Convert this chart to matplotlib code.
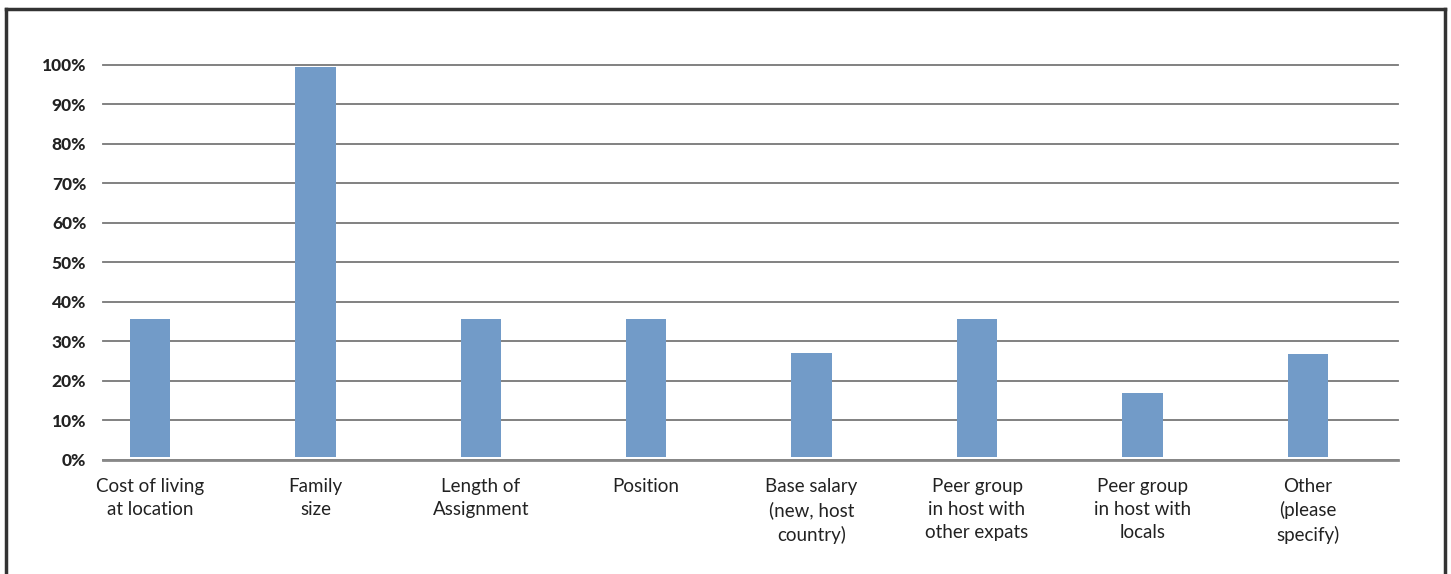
import matplotlib
matplotlib.use("Agg")
import matplotlib.pyplot as plt
from matplotlib.lines import Line2D

categories = ["Cost of living\nat location", "Family\nsize", "Length of\nAssignment",
              "Position", "Base salary\n(new, host\ncountry)", "Peer group\nin host with\nother expats",
              "Peer group\nin host with\nlocals", "Other\n(please\nspecify)"]
values = [35.6, 99.3, 35.6, 35.6, 27.0, 35.6, 17.0, 26.8]
yticks = [0, 10, 20, 30, 40, 50, 60, 70, 80, 90, 100]
ytick_labels = [f"{t}%" for t in yticks]

fig = plt.figure(figsize=(14.51, 5.74), dpi=100)
ax = fig.add_axes([103/1451, 1-460/574, (1398-103)/1451, (460-64.5)/574])

base = 0.8
x = list(range(len(categories)))
ax.bar(x, [v - base for v in values], bottom=base, width=0.245, color="#729bc8", zorder=3)

ax.set_ylim(0, 100)
ax.set_xlim(-0.284, 7.545)
ax.set_yticks(yticks)
ax.set_yticklabels(ytick_labels, fontsize=12.5, fontweight="black", color="#222222", family="Lato")
ax.set_xticks(x)
ax.set_xticklabels(categories, fontsize=13.5, color="#222222", family="Lato", linespacing=1.42)
ax.tick_params(axis="both", length=0)
ax.tick_params(axis="y", pad=12)
ax.tick_params(axis="x", pad=13)
for t in yticks:
    ax.axhline(t, color="#777777", linewidth=1.3, zorder=1, clip_on=False)
for s in ["top", "right", "left"]:
    ax.spines[s].set_visible(False)
ax.spines["bottom"].set_color("#888888")
ax.spines["bottom"].set_linewidth(2)

# outer frame
fw = fig.get_figwidth() * fig.dpi
fh = fig.get_figheight() * fig.dpi
kw = dict(color="#333333", linewidth=2.5, transform=fig.transFigure)
fig.add_artist(Line2D([6/fw, 6/fw], [0, 1-9/fh], **kw))
fig.add_artist(Line2D([6/fw, 1-6/fw], [1-9/fh, 1-9/fh], **kw))
fig.add_artist(Line2D([1-6/fw, 1-6/fw], [0, 1-9/fh], **kw))

fig.savefig("out.png", dpi=100)
